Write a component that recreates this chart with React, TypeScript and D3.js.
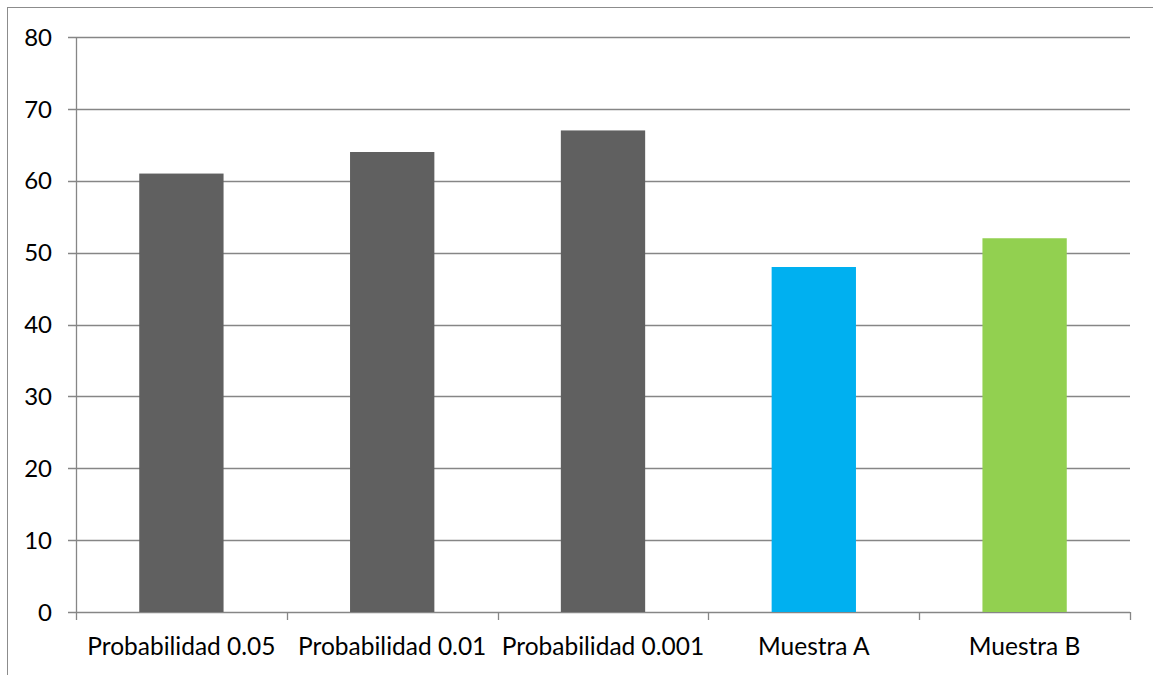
import React from "react";
import * as d3 from "d3";

const categories = ["Probabilidad 0.05", "Probabilidad 0.01", "Probabilidad 0.001", "Muestra A", "Muestra B"];
const values = [61, 64, 67, 48, 52];
const barColors = ["#606060", "#606060", "#606060", "#00b0f0", "#92d050"];
const yTicks = [0, 10, 20, 30, 40, 50, 60, 70, 80];

const W = 1153;
const H = 675;
const left = 76;
const right = 1130;
const top = 37;
const bottom = 612;
const gridColor = "#868686";
const font = "Lato, 'Open Sans', sans-serif";

export default function App() {
  const y = d3.scaleLinear().domain([0, 80]).range([bottom, top]);
  const x = d3.scaleBand<string>().domain(categories).range([left, right]).paddingInner(0.6).paddingOuter(0.3);
  const xb = d3.scaleBand<string>().domain(categories).range([left, right]).padding(0);
  const boundaries = [...categories.map((c) => xb(c) as number), right];

  return (
    <svg width={W} height={H} style={{ position: "absolute", left: 0, top: 0, display: "block", background: "#fff" }}>
      <rect x={7.5} y={7.5} width={W + 50} height={H + 50} fill="none" stroke="#8c8c8c" strokeWidth={1} />
      {yTicks.map((t) => (
        <g key={t}>
          <line x1={left - 8} x2={right} y1={Math.round(y(t)) + 0.5} y2={Math.round(y(t)) + 0.5} stroke={gridColor} strokeWidth={1.3} />
          <text x={52} y={y(t)} dy="0.36em" textAnchor="end" fontFamily={font} fontSize={24} fill="#000">
            {t}
          </text>
        </g>
      ))}
      <line x1={left + 0.5} x2={left + 0.5} y1={top} y2={bottom} stroke={gridColor} strokeWidth={1.3} />
      {boundaries.map((b, i) => (
        <line key={i} x1={Math.round(b) + 0.5} x2={Math.round(b) + 0.5} y1={bottom} y2={bottom + 8} stroke={gridColor} strokeWidth={1.3} />
      ))}
      {categories.map((c, i) => (
        <rect key={c} x={x(c)} y={y(values[i])} width={x.bandwidth()} height={y(0) - y(values[i])} fill={barColors[i]} />
      ))}
      {categories.map((c) => (
        <text key={c} x={(xb(c) as number) + xb.bandwidth() / 2} y={655} textAnchor="middle" fontFamily={font} fontSize={24.5} fill="#000">
          {c}
        </text>
      ))}
    </svg>
  );
}
